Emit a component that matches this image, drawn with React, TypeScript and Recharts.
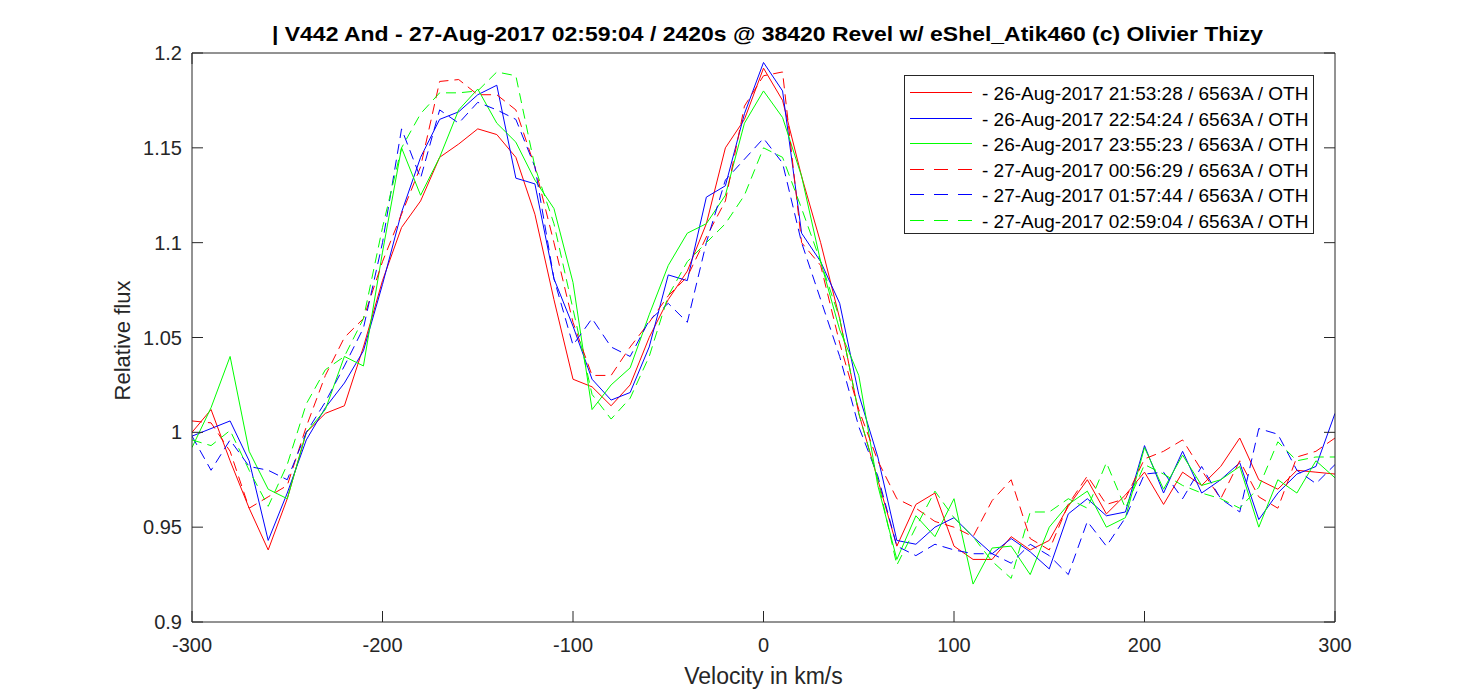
import React from "react";
import { LineChart, Line, XAxis, YAxis, Legend, Label } from "recharts";

// velocity grid (km/s)
const velocity = [
  -300, -290, -280, -270, -260, -250, -240, -230, -220, -210, -200, -190, -180,
  -170, -160, -150, -140, -130, -120, -110, -100, -90, -80, -70, -60, -50, -40,
  -30, -20, -10, 0, 10, 20, 30, 40, 50, 60, 70, 80, 90, 100, 110, 120, 130, 140,
  150, 160, 170, 180, 190, 200, 210, 220, 230, 240, 250, 260, 270, 280, 290, 300,
];

const flux2153 = [
  1.0, 1.012, 0.985, 0.96, 0.938, 0.965, 1.0, 1.01, 1.014, 1.045, 1.08, 1.108,
  1.122, 1.145, 1.152, 1.16, 1.157, 1.145, 1.115, 1.07, 1.028, 1.024, 1.014,
  1.025, 1.05, 1.07, 1.085, 1.11, 1.15, 1.165, 1.192, 1.175, 1.135, 1.1, 1.06,
  1.01, 0.975, 0.94, 0.962, 0.968, 0.94, 0.933, 0.933, 0.945, 0.938, 0.943,
  0.961, 0.975, 0.957, 0.967, 0.979, 0.962, 0.979, 0.972, 0.982, 0.997, 0.975,
  0.97, 0.98, 0.979, 0.978,
];

const flux2254 = [
  0.998, 1.002, 1.006, 0.985, 0.943, 0.968, 0.996, 1.013, 1.026, 1.043, 1.078,
  1.116, 1.145, 1.165, 1.169, 1.178, 1.183, 1.134, 1.131, 1.081, 1.056, 1.028,
  1.017, 1.021, 1.045, 1.083, 1.08, 1.124, 1.13, 1.168, 1.195, 1.18, 1.105,
  1.09, 1.068, 1.02, 0.987, 0.943, 0.941, 0.95, 0.955, 0.945, 0.936, 0.944,
  0.937, 0.928, 0.957, 0.965, 0.956, 0.958, 0.993, 0.968, 0.99, 0.968, 0.975,
  0.984, 0.954, 0.968, 0.978, 0.982, 1.01,
];

const flux2355 = [
  0.992, 1.013, 1.04, 0.99, 0.97, 0.965, 1.0, 1.012, 1.04, 1.035, 1.095, 1.15,
  1.125, 1.145, 1.17, 1.181, 1.163, 1.153, 1.133, 1.118, 1.079, 1.012, 1.025,
  1.034, 1.062, 1.088, 1.105, 1.11, 1.125, 1.163, 1.18, 1.166, 1.135, 1.09,
  1.054, 1.03, 0.972, 0.933, 0.956, 0.945, 0.965, 0.92, 0.939, 0.94, 0.925,
  0.95, 0.962, 0.969, 0.95, 0.955, 0.992, 0.97, 0.988, 0.972, 0.975, 0.982,
  0.95, 0.975, 0.968, 0.985, 0.976,
];

const flux0056 = [
  1.006, 1.005, 0.99, 0.96, 0.966, 0.972, 1.003, 1.03, 1.05, 1.06, 1.09, 1.115,
  1.14, 1.185, 1.186, 1.178, 1.178, 1.17, 1.14, 1.1, 1.058, 1.03, 1.03, 1.045,
  1.058, 1.072, 1.082, 1.103, 1.122, 1.172, 1.188, 1.19, 1.1, 1.088, 1.047,
  1.012, 0.985, 0.965, 0.96, 0.953, 0.95, 0.945, 0.964, 0.975, 0.944, 0.938,
  0.962, 0.977, 0.962, 0.965, 0.986, 0.99, 0.996, 0.98, 0.965, 0.985, 0.966,
  0.96, 0.987, 0.99, 0.997,
];

const flux0157 = [
  0.998, 0.98, 0.996, 0.982, 0.98, 0.975, 1.0, 1.016, 1.035, 1.055, 1.1, 1.16,
  1.134, 1.17, 1.163, 1.174, 1.17, 1.165, 1.14, 1.081, 1.046, 1.06, 1.045,
  1.04, 1.059, 1.068, 1.058, 1.1, 1.133, 1.144, 1.155, 1.142, 1.1, 1.07, 1.04,
  1.003, 0.977, 0.94, 0.935, 0.941, 0.938, 0.936, 0.936, 0.931, 0.941, 0.935,
  0.925, 0.953, 0.94, 0.955, 0.978, 0.979, 0.965, 0.982, 0.965, 0.958, 1.002,
  0.999, 0.98, 0.973, 0.983,
];

const flux0259 = [
  0.996, 0.993, 1.001, 0.98, 0.961, 0.983, 1.015, 1.033, 1.04, 1.06, 1.108,
  1.15, 1.168, 1.179, 1.179, 1.18, 1.19, 1.188, 1.14, 1.11, 1.065, 1.02, 1.007,
  1.018, 1.04, 1.072, 1.09, 1.1, 1.11, 1.125, 1.15, 1.145, 1.118, 1.09, 1.06,
  1.01, 0.975, 0.93, 0.95, 0.969, 0.955, 0.945, 0.932, 0.923, 0.958, 0.958,
  0.965, 0.96, 0.984, 0.96, 0.983, 0.978, 0.972, 0.968, 0.965, 0.96, 0.971,
  0.995, 0.985, 0.987, 0.987,
];

const xTicks = [-300, -200, -100, 0, 100, 200, 300];
const yTicks = [0.9, 0.95, 1, 1.05, 1.1, 1.15, 1.2];

const series = [
  { key: "s2153", name: "- 26-Aug-2017 21:53:28 / 6563A / OTH", color: "#ff0000", dash: undefined, values: flux2153 },
  { key: "s2254", name: "- 26-Aug-2017 22:54:24 / 6563A / OTH", color: "#0000ff", dash: undefined, values: flux2254 },
  { key: "s2355", name: "- 26-Aug-2017 23:55:23 / 6563A / OTH", color: "#00ff00", dash: undefined, values: flux2355 },
  { key: "s0056", name: "- 27-Aug-2017 00:56:29 / 6563A / OTH", color: "#ff0000", dash: "10 6", values: flux0056 },
  { key: "s0157", name: "- 27-Aug-2017 01:57:44 / 6563A / OTH", color: "#0000ff", dash: "10 6", values: flux0157 },
  { key: "s0259", name: "- 27-Aug-2017 02:59:04 / 6563A / OTH", color: "#00ff00", dash: "10 6", values: flux0259 },
];

const data = velocity.map((v, i) => {
  const row: Record<string, number> = { v };
  series.forEach((s) => {
    row[s.key] = s.values[i];
  });
  return row;
});

const W = 1475;
const H = 698;
const LEFT = 192;
const RIGHT = 1335;
const TOP = 53;
const BOTTOM = 622;
const AXIS = "#262626";
const FONT = "'Liberation Sans', Arial, Helvetica, sans-serif";
const TICK_LEN = 11;
const TITLE = "| V442 And - 27-Aug-2017 02:59:04 / 2420s @ 38420 Revel w/ eShel_Atik460 (c) Olivier Thizy";

const BottomTick = (props: any) => {
  const { x, y, payload } = props;
  return (
    <g>
      <line x1={x} x2={x} y1={y} y2={y - TICK_LEN} stroke={AXIS} />
      <text x={x} y={y + 30} textAnchor="middle" fontSize={20} fontFamily={FONT} fill={AXIS}>
        {payload.value}
      </text>
    </g>
  );
};

const TopTick = (props: any) => {
  const { x, y } = props;
  return <line x1={x} x2={x} y1={y} y2={y + TICK_LEN} stroke={AXIS} />;
};

const LeftTick = (props: any) => {
  const { x, y, payload } = props;
  return (
    <g>
      <line x1={x} x2={x + TICK_LEN} y1={y} y2={y} stroke={AXIS} />
      <text x={x - 10} y={y + 7} textAnchor="end" fontSize={20} fontFamily={FONT} fill={AXIS}>
        {payload.value}
      </text>
    </g>
  );
};

const RightTick = (props: any) => {
  const { x, y } = props;
  return <line x1={x} x2={x - TICK_LEN} y1={y} y2={y} stroke={AXIS} />;
};

const LegendBox = () => {
  const w = 410;
  const h = 159;
  return (
    <svg width={w} height={h} style={{ display: "block" }}>
      <rect x={0.5} y={0.5} width={w - 1} height={h - 1} fill="#ffffff" stroke={AXIS} />
      {series.map((s, i) => {
        const cy = Math.round(17 + i * 25.5) + 0.5;
        return (
          <g key={s.key}>
            <line x1={6} x2={68} y1={cy} y2={cy} stroke={s.color} strokeDasharray={s.dash ? "14 10" : undefined} />
            <text x={78} y={cy + 7} fontSize={19} fontFamily={FONT} fill="#000000">
              {s.name}
            </text>
          </g>
        );
      })}
    </svg>
  );
};

export default function App() {
  return (
    <div style={{ position: "absolute", left: 0, top: 0, width: W, height: H, background: "#ffffff", fontFamily: FONT }}>
      <LineChart
        width={W}
        height={H}
        data={data}
        margin={{ top: TOP - 10, right: W - RIGHT - 10, bottom: H - BOTTOM - 40, left: LEFT - 60 }}
      >
        <XAxis
          xAxisId="bottom"
          dataKey="v"
          type="number"
          domain={[-300, 300]}
          ticks={xTicks}
          interval={0}
          height={40}
          tickSize={0}
          tickMargin={0}
          tick={<BottomTick />}
          stroke={AXIS}
          allowDataOverflow
        >
          <Label
            content={() => (
              <text x={(LEFT + RIGHT) / 2} y={684} textAnchor="middle" fontSize={23} fontFamily={FONT} fill={AXIS}>
                Velocity in km/s
              </text>
            )}
          />
        </XAxis>
        <XAxis
          xAxisId="top"
          orientation="top"
          type="number"
          domain={[-300, 300]}
          ticks={xTicks}
          interval={0}
          height={10}
          tickSize={0}
          tickMargin={0}
          tick={<TopTick />}
          stroke={AXIS}
          allowDataOverflow
        >
          <Label
            content={() => (
              <text
                x={272}
                y={41}
                fontSize={21}
                fontWeight="bold"
                fontFamily={FONT}
                fill="#000000"
                textLength={991}
                lengthAdjust="spacingAndGlyphs"
              >
                {TITLE}
              </text>
            )}
          />
        </XAxis>
        <YAxis
          yAxisId="left"
          type="number"
          domain={[0.9, 1.2]}
          ticks={yTicks}
          interval={0}
          width={60}
          tickSize={0}
          tickMargin={0}
          tick={<LeftTick />}
          stroke={AXIS}
          allowDataOverflow
        >
          <Label
            content={() => (
              <text
                x={130}
                y={(TOP + BOTTOM) / 2 + 3}
                textAnchor="middle"
                fontSize={22}
                fontFamily={FONT}
                fill={AXIS}
                transform={`rotate(-90, 130, ${(TOP + BOTTOM) / 2 + 3})`}
              >
                Relative flux
              </text>
            )}
          />
        </YAxis>
        <YAxis
          yAxisId="right"
          orientation="right"
          type="number"
          domain={[0.9, 1.2]}
          ticks={yTicks}
          interval={0}
          width={10}
          tickSize={0}
          tickMargin={0}
          tick={<RightTick />}
          stroke={AXIS}
          allowDataOverflow
        />
        {series.map((s) => (
          <Line
            key={s.key}
            xAxisId="bottom"
            yAxisId="left"
            dataKey={s.key}
            name={s.name}
            type="linear"
            stroke={s.color}
            strokeWidth={1}
            strokeDasharray={s.dash}
            dot={false}
            activeDot={false}
            isAnimationActive={false}
          />
        ))}
        <Legend
          layout="vertical"
          align="center"
          verticalAlign="middle"
          wrapperStyle={{ top: 75, left: 904, width: 410, height: 159 }}
          content={() => <LegendBox />}
        />
      </LineChart>
    </div>
  );
}
